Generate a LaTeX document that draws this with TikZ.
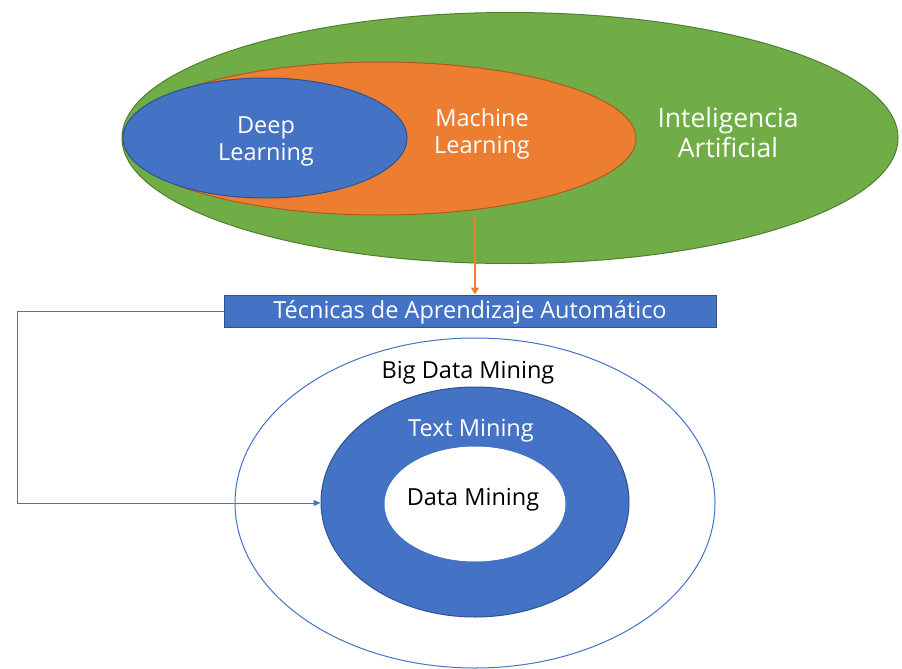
\documentclass[tikz,border=0pt]{standalone}
\usepackage{fontspec}
\setmainfont{Open Sans}
\usetikzlibrary{shapes.geometric,arrows.meta}
\definecolor{aigreen}{HTML}{70AD47}
\definecolor{aigreenline}{HTML}{507E32}
\definecolor{mlorange}{HTML}{ED7D31}
\definecolor{mlorangeline}{HTML}{AE5A21}
\definecolor{dlblue}{HTML}{4472C4}
\definecolor{dlblueline}{HTML}{2F528F}
\tikzset{
  oval/.style={ellipse, inner sep=0pt, line width=1pt},
  lbl/.style={inner sep=0pt, align=center, font=\fontsize{23.5}{27}\selectfont},
  wlbl/.style={lbl, text=white},
  klbl/.style={lbl, text=black},
  link/.style={draw=dlblue, line width=1pt, -{Triangle[length=7pt,width=6pt]}},
}
\begin{document}
\begin{tikzpicture}[x=1pt,y=-1pt]
  \useasboundingbox (0,0) rectangle (902,669);
  % upper nested sets
  \node[oval, fill=aigreen, draw=aigreenline, minimum width=776pt, minimum height=251pt] (ia) at (510,138) {};
  \node[oval, fill=mlorange, draw=mlorangeline, minimum width=512pt, minimum height=153pt] (ml) at (380,138.5) {};
  \node[oval, fill=dlblue, draw=dlblueline, minimum width=284pt, minimum height=120pt] (dl) at (265,138) {};
  \node[wlbl] (dltext) at (266,141) {Deep\\Learning};
  \node[wlbl] (mltext) at (482,134) {Machine\\Learning};
  \node[wlbl, font=\fontsize{26.5}{30}\selectfont] (iatext) at (728,133) {Inteligencia\\Artificial};
  % techniques banner
  \node[draw=dlblueline, fill=dlblue, line width=1pt, minimum width=492pt, minimum height=32pt, inner sep=0pt] (tec) at (470,311) {};
  \node[wlbl, font=\fontsize{23.5}{27}\selectfont] (tectext) at (470,312) {Técnicas de Aprendizaje Automático};
  \coordinate (mlfoot) at (475,215);
  \draw[draw=mlorange, line width=1.5pt, -{Triangle[length=7pt,width=8pt]}] (mlfoot) -- (tec.north -| mlfoot);
  % lower nested sets
  \node[oval, fill=white, draw=dlblue, minimum width=480pt, minimum height=330pt] (bdm) at (475,503) {};
  \node[oval, fill=dlblue, draw=dlblueline, minimum width=308pt, minimum height=230pt] (tm) at (475,502) {};
  \node[oval, fill=white, draw=white, minimum width=180pt, minimum height=114pt] (dm) at (475,504) {};
  \node[klbl] (bdmtext) at (468,373) {Big Data Mining};
  \node[wlbl] (tmtext) at (471,431) {Text Mining};
  \node[klbl] (dmtext) at (473,500) {Data Mining};
  % elbow connector from the banner to the text-mining ring
  \coordinate (c1) at (17,311);
  \coordinate (c2) at (17,503);
  \draw[link] (tec.west) -- (c1) -- (c2) -- (tm.west |- c2);
\end{tikzpicture}
\end{document}
